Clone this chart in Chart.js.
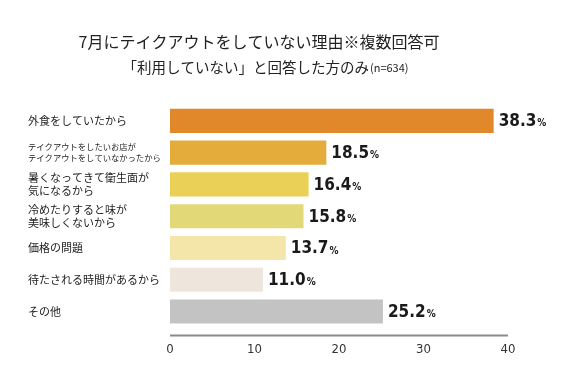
<!DOCTYPE html>
<html>
<head>
<meta charset="utf-8">
<script src="https://cdn.jsdelivr.net/npm/chart.js@4/dist/chart.umd.min.js"></script>
<style>
  body { margin: 0; background: #fff; }
  #wrap { width: 585px; height: 387px; position: relative; }
</style>
</head>
<body>
<div id="wrap"><canvas id="chart"></canvas></div>
<script>
const titleText = "7月にテイクアウトをしていない理由※複数回答可";
const subtitleText = "「利用していない」と回答した方のみ";
const subtitleNote = "(n=634)";

const categories = [
  ["外食をしていたから"],
  ["テイクアウトをしたいお店が", "テイクアウトをしていなかったから"],
  ["暑くなってきて衛生面が", "気になるから"],
  ["冷めたりすると味が", "美味しくないから"],
  ["価格の問題"],
  ["待たされる時間があるから"],
  ["その他"]
];
const values = [38.3, 18.5, 16.4, 15.8, 13.7, 11.0, 25.2];
const barColors = ["#E0882A", "#E4AC3B", "#EBD058", "#E3D877", "#F4E6A8", "#EEE6DD", "#C3C3C3"];
const xTicks = [0, 10, 20, 30, 40];

const jpFont = "'Noto Sans CJK JP', 'Noto Sans', sans-serif";
const numFont = "'DejaVu Sans Condensed', 'Roboto', sans-serif";

// titles, value labels and the x axis line
const extras = {
  id: "extras",
  afterDraw(chart) {
    const ctx = chart.ctx;
    const xs = chart.scales.x;
    ctx.save();
    ctx.fillStyle = "#222";
    ctx.textBaseline = "middle";

    ctx.font = "16px " + jpFont;
    ctx.textAlign = "center";
    ctx.fillText(titleText, 259, 42);

    ctx.font = "14.5px " + jpFont;
    const w1 = ctx.measureText(subtitleText).width;
    ctx.font = "11px " + jpFont;
    const w2 = ctx.measureText(subtitleNote).width;
    let sx = 265 - (w1 + w2) / 2;
    ctx.textAlign = "left";
    ctx.font = "14.5px " + jpFont;
    ctx.fillText(subtitleText, sx, 67);
    ctx.font = "11px " + jpFont;
    ctx.fillText(subtitleNote, sx + w1 + 1, 68);

    // axis line
    const ly = chart.chartArea.bottom + 8;
    ctx.strokeStyle = "#8a8a8a";
    ctx.lineWidth = 2;
    ctx.beginPath();
    ctx.moveTo(xs.getPixelForValue(0), ly);
    ctx.lineTo(xs.getPixelForValue(40), ly);
    ctx.stroke();

    // value labels
    const meta = chart.getDatasetMeta(0);
    meta.data.forEach((bar, i) => {
      const num = values[i].toFixed(1);
      let x = bar.x + 5;
      ctx.fillStyle = "#1a1a1a";
      ctx.font = "bold 17px " + numFont;
      ctx.fillText(num, x, bar.y + 1);
      const nw = ctx.measureText(num).width;
      ctx.font = "bold 10px " + numFont;
      ctx.fillText("%", x + nw + 1, bar.y + 3);
    });
    ctx.restore();
  }
};

new Chart(document.getElementById("chart"), {
  type: "bar",
  data: {
    labels: categories,
    datasets: [{
      data: values,
      backgroundColor: barColors,
      borderWidth: 0,
      barPercentage: 0.76,
      categoryPercentage: 1
    }]
  },
  options: {
    indexAxis: "y",
    responsive: true,
    maintainAspectRatio: false,
    animation: false,
    layout: { padding: { left: 28, right: 77, top: 105, bottom: 16 } },
    plugins: { legend: { display: false }, tooltip: { enabled: false } },
    scales: {
      x: {
        min: 0,
        max: 40,
        grid: { display: false, drawTicks: false },
        border: { display: false },
        afterBuildTicks(scale) { scale.ticks = xTicks.map(v => ({ value: v })); },
        ticks: {
          padding: 14,
          color: "#333",
          font: { family: numFont, size: 13 }
        }
      },
      y: {
        grid: { display: false, drawTicks: false },
        border: { display: false },
        afterFit(scale) { scale.width = 142; },
        ticks: {
          crossAlign: "far",
          color: "#222",
          font: (c) => ({ family: jpFont, size: c.index === 1 ? 8.3 : 11, lineHeight: c.index === 1 ? 1.3 : 1.15 })
        }
      }
    }
  },
  plugins: [extras]
});
</script>
</body>
</html>
